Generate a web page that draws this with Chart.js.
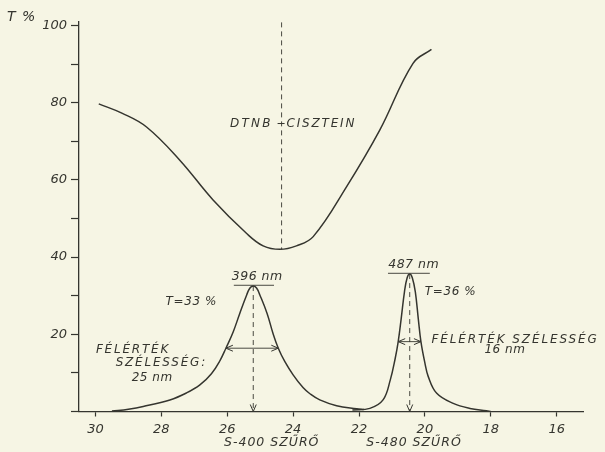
<!DOCTYPE html>
<html>
<head>
<meta charset="utf-8">
<title>DTNB + cisztein</title>
<script src="https://cdn.jsdelivr.net/npm/chart.js"></script>
<style>
    body {
        margin: 0;
        background-color: #f6f5e4; /* old paper */
    }
    #wrap {
        width: 605px;
        height: 452px;
    }
</style>
</head>
<body>
<div id="wrap"><canvas id="plot" width="605" height="452"></canvas></div>

<script>
// x = wavenumber (1000 cm-1, runs right to left), y = T %
const dtnbX = [29.90, 29.20, 28.45, 27.44, 26.43, 25.41, 24.91, 24.40, 23.90, 23.39, 22.38, 21.37, 20.36, 19.80];
const dtnbT = [79.7, 77.3, 73.7, 65.1, 54.8, 46.1, 42.9, 42.0, 42.9, 45.3, 58.2, 72.9, 90.2, 93.8];

const s400X = [29.50, 29.00, 28.55, 27.74, 27.24, 26.83, 26.48, 26.22, 26.04, 25.82, 25.62, 25.41, 25.31, 25.21,
               25.11, 25.01, 24.79, 24.61, 24.45, 24.25, 24.00, 23.70, 23.49, 23.19, 22.68, 22.07, 21.85];
const s400T = [0.1, 0.6, 1.3, 3.0, 4.8, 6.9, 9.8, 13.2, 16.4, 20.6, 25.4, 30.2, 32.0, 32.5,
               32.0, 30.2, 25.4, 20.2, 16.4, 12.9, 9.5, 6.2, 4.6, 3.0, 1.5, 0.7, 0.5];

const s480X = [22.20, 21.67, 21.27, 21.05, 20.90, 20.81, 20.72, 20.62, 20.54, 20.46, 20.38, 20.29, 20.20, 20.12, 20.00, 19.90, 19.64, 19.14, 18.63, 18.13, 18.00];
const s480T = [0.4, 0.8, 3.0, 8.2, 13.8, 18.1, 24.0, 31.0, 34.6, 35.6, 34.6, 31.0, 24.0, 18.1, 12.6, 9.1, 4.7, 2.1, 0.8, 0.2, 0.0];

// filters: peak place, peak bar, half width
const filterNames = ['S-400 SZŰRŐ', 'S-480 SZŰRŐ'];
const peakNm = ['396 nm', '487 nm'];
const peakT = ['T=33 %', 'T=36 %'];
const peakX = [25.21, 20.46];
const peakTop = [32.5, 35.6];
const barFrom = [25.80, 21.12];
const barTo = [24.58, 19.85];
const barY = [32.7, 35.8];
const halfFrom = [26.04, 20.81];
const halfTo = [24.45, 20.12];
const halfY = [16.4, 18.1];
const halfText = ['25 nm', '16 nm'];

const dtnbMinX = 24.35;
const dtnbMinT = 42.0;

const xTickValues = [30, 28, 26, 24, 22, 20, 18, 16];
const yTickValues = [0, 10, 20, 30, 40, 50, 60, 70, 80, 90, 100];
const yLabelled = [20, 40, 60, 80, 100];

const ink = '#35352f';
const inkFont = '"DejaVu Sans", sans-serif';

function pts(xs, ys) {
    return xs.map((x, i) => ({ x: x, y: ys[i] }));
}

function curve(data) {
    return {
        data: data,
        borderColor: ink,
        borderWidth: 1.5,
        pointRadius: 0,
        tension: 0.4,
        showLine: true
    };
}

function thin(data, dashed) {
    return {
        data: data,
        borderColor: ink,
        borderWidth: 0.9,
        borderDash: dashed ? [5, 4] : [],
        pointRadius: 0,
        showLine: true
    };
}

const datasets = [
    curve(pts(dtnbX, dtnbT)),
    curve(pts(s400X, s400T)),
    curve(pts(s480X, s480T)),
    thin([{ x: dtnbMinX, y: 100.8 }, { x: dtnbMinX, y: dtnbMinT }], true)
];
for (let i = 0; i < peakX.length; i++) {
    datasets.push(thin([{ x: peakX[i], y: peakTop[i] }, { x: peakX[i], y: 0 }], true));
    datasets.push(thin([{ x: barFrom[i], y: barY[i] }, { x: barTo[i], y: barY[i] }], false));
    datasets.push(thin([{ x: halfFrom[i], y: halfY[i] }, { x: halfTo[i], y: halfY[i] }], false));
}

// hand lettering and arrow heads
const notesPlugin = {
    id: 'notes',
    afterDatasetsDraw(chart) {
        const ctx = chart.ctx;
        const sx = chart.scales.x;
        const sy = chart.scales.y;
        const X = v => sx.getPixelForValue(v);
        const Y = v => sy.getPixelForValue(v);

        function text(t, x, y, align, size, spacing) {
            ctx.font = 'italic ' + size + 'px ' + inkFont;
            ctx.letterSpacing = (spacing || 0) + 'px';
            ctx.textAlign = align;
            ctx.textBaseline = 'middle';
            ctx.fillText(t, x, y);
        }

        ctx.save();
        ctx.fillStyle = ink;
        ctx.strokeStyle = ink;
        ctx.lineWidth = 1;

        text('T %', X(32.24), Y(102.0), 'center', 14, 1);

        // DTNB + CISZTEIN around the dashed line
        const dx = X(dtnbMinX);
        const dy = Y(74.6);
        text('DTNB', dx - 9, dy, 'right', 12, 2.2);
        text('CISZTEIN', dx + 5, dy, 'left', 12, 1.8);
        ctx.beginPath();
        ctx.moveTo(dx - 4, dy);
        ctx.lineTo(dx + 3, dy);
        ctx.stroke();

        // filter notes
        text(peakNm[0], X(25.09), Y(34.9), 'center', 12.5, 0.5);
        text(peakNm[1], X(20.34), Y(37.9), 'center', 12.5, 0.5);
        text(peakT[0], X(27.09), Y(28.4), 'center', 12, 0.6);
        text(peakT[1], X(19.22), Y(31.0), 'center', 12, 0.6);
        text('FÉLÉRTÉK', X(28.86), Y(15.9), 'center', 12, 1.8);
        text('SZÉLESSÉG:', X(28.0), Y(12.5), 'center', 12, 1.8);
        text(halfText[0], X(28.28), Y(8.75), 'center', 12, 0.5);
        text('FÉLÉRTÉK SZÉLESSÉG', X(19.80), Y(18.5), 'left', 12, 1.9);
        text(halfText[1], X(17.57), Y(15.9), 'center', 12, 0.5);
        text(filterNames[0], X(24.65), Y(-8.2), 'center', 12.5, 1);
        text(filterNames[1], X(20.33), Y(-8.2), 'center', 12.5, 1);

        // arrow heads
        ctx.lineWidth = 1;
        for (let i = 0; i < peakX.length; i++) {
            const ax = X(peakX[i]);
            const ay = Y(0);
            ctx.beginPath();
            ctx.moveTo(ax - 3, ay - 7);
            ctx.lineTo(ax, ay);
            ctx.lineTo(ax + 3, ay - 7);
            ctx.stroke();

            const l = Math.min(X(halfFrom[i]), X(halfTo[i]));
            const r = Math.max(X(halfFrom[i]), X(halfTo[i]));
            const hy = Y(halfY[i]);
            ctx.beginPath();
            ctx.moveTo(l + 7, hy - 3);
            ctx.lineTo(l, hy);
            ctx.lineTo(l + 7, hy + 3);
            ctx.moveTo(r - 7, hy - 3);
            ctx.lineTo(r, hy);
            ctx.lineTo(r - 7, hy + 3);
            ctx.stroke();
        }
        ctx.restore();
    }
};

new Chart(document.getElementById('plot'), {
    type: 'scatter',
    data: { datasets: datasets },
    options: {
        responsive: false,
        animation: false,
        layout: { padding: { top: 22, right: 22, left: 0, bottom: 0 } },
        plugins: {
            legend: { display: false },
            tooltip: { enabled: false }
        },
        scales: {
            x: {
                type: 'linear',
                reverse: true,
                min: 15.2,
                max: 30.5,
                afterBuildTicks: s => { s.ticks = xTickValues.map(v => ({ value: v })); },
                afterFit: s => { s.height = 40.5; },
                border: { color: ink, width: 1.3 },
                grid: { drawOnChartArea: false, tickLength: 5, color: ink, tickWidth: 1.2 },
                ticks: {
                    color: ink,
                    padding: 5,
                    maxRotation: 0,
                    font: { family: inkFont, style: 'italic', size: 13 }
                }
            },
            y: {
                min: 0,
                max: 100.9,
                afterBuildTicks: s => { s.ticks = yTickValues.map(v => ({ value: v })); },
                afterFit: s => { s.width = 79; },
                border: { color: ink, width: 1.3 },
                grid: { drawOnChartArea: false, tickLength: 8, color: ink, tickWidth: 1.2 },
                ticks: {
                    color: ink,
                    padding: 4,
                    font: { family: inkFont, style: 'italic', size: 13 },
                    callback: v => yLabelled.includes(v) ? String(v) : ''
                }
            }
        }
    },
    plugins: [notesPlugin]
});
</script>
</body>
</html>
